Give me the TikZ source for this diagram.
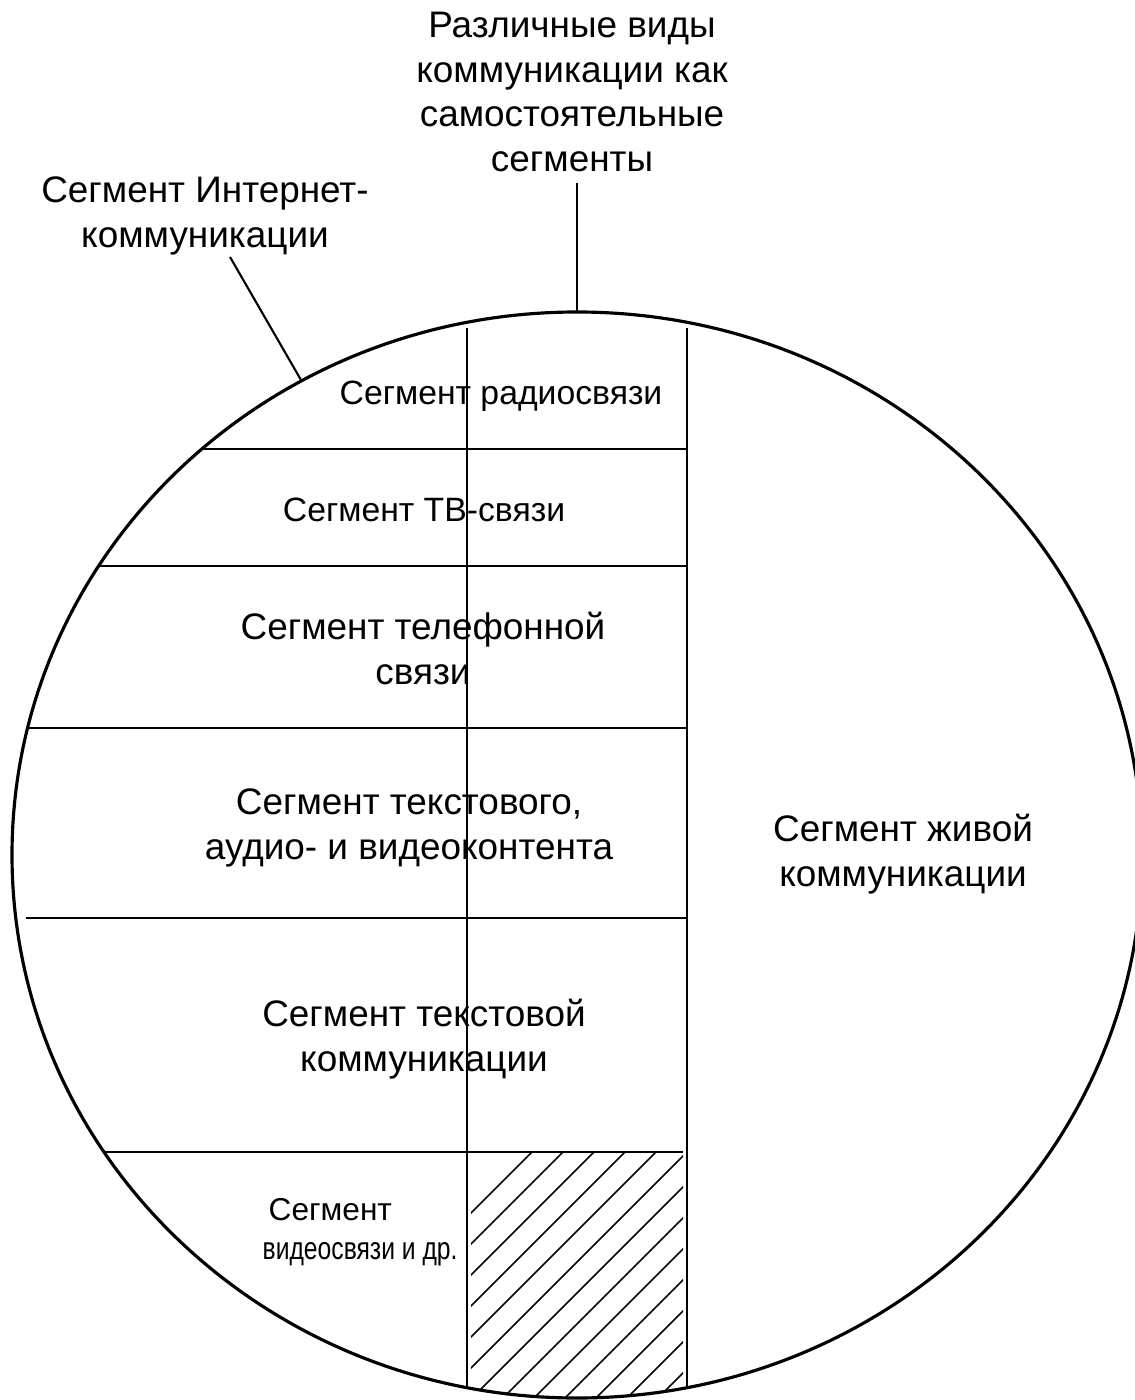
\documentclass[tikz,border=0pt]{standalone}
\usepackage{fontspec}
\setmainfont{Liberation Sans}
\newfontfamily\narrowsans[FakeStretch=0.78]{Liberation Sans}
\tikzset{
  seglabel/.style={font=\fontsize{10.5}{12.8}\selectfont, align=center, inner sep=0pt},
  thinlabel/.style={seglabel, font=\fontsize{9.6}{12}\selectfont},
  smalllabel/.style={font=\fontsize{9}{11.2}\selectfont, align=left, inner sep=0pt},
  rim/.style={line width=0.9pt},
  divider/.style={line width=0.6pt},
  hatchline/.style={line width=0.45pt},
}
\begin{document}
\begin{tikzpicture}[x=0.1mm, y=-0.1mm]
  \useasboundingbox (0,0) rectangle (1134,1400);

  %%%%% DISK %%%%%
  \draw[rim] (577,855) ellipse [x radius=56.5mm, y radius=54.3mm];

  % columns
  \draw[divider] (467,328) -- (467,1388);
  \draw[divider] (687,328) -- (687,1388);

  % rows
  \draw[divider] (202,449) -- (687,449);
  \draw[divider] (99,566) -- (687,566);
  \draw[divider] (28,728) -- (687,728);
  \draw[divider] (26,918) -- (687,918);
  \draw[divider] (104,1152) -- (683,1152);

  % hatched cell
  \begin{scope}
    \clip (471,1152) rectangle (683,1400);
    \clip (577,855) ellipse [x radius=56.5mm, y radius=54.3mm];
    \foreach \c in {1684,1715,...,2056}
      \draw[hatchline] (\c-1400,1400) -- (\c-1100,1100);
  \end{scope}

  %%%%% LABELS %%%%%
  \node[thinlabel] (radio) at (501,396) {Сегмент радиосвязи};
  \node[thinlabel] (tv) at (424,510) {Сегмент ТВ-связи};
  \node[seglabel] (phone) at (423,648) {Сегмент телефонной\\связи};
  \node[seglabel] (content) at (409,828) {Сегмент текстового,\\аудио- и видеоконтента};
  \node[seglabel] (text) at (424,1039) {Сегмент текстовой\\коммуникации};
  \node[smalllabel, anchor=west] (video) at (262,1232) {\hspace*{1.7pt}Сегмент\\{\narrowsans видеосвязи и др.}};
  \node[seglabel] (live) at (903,854) {Сегмент живой\\коммуникации};

  %%%%% LEADERS %%%%%
  \node[seglabel] (kinds) at (572,92) {Различные виды\\коммуникации как\\самостоятельные\\сегменты};
  \coordinate (kindsfoot) at (577,183);
  \coordinate (disktop) at (577,312);
  \draw[divider] (kindsfoot) -- (disktop);

  \node[seglabel] (internet) at (205,216) {Сегмент Интернет-\\коммуникации};
  \coordinate (internetfoot) at (230,257);
  \coordinate (internetrim) at (301,380);
  \draw[divider] (internetfoot) -- (internetrim);
\end{tikzpicture}
\end{document}
